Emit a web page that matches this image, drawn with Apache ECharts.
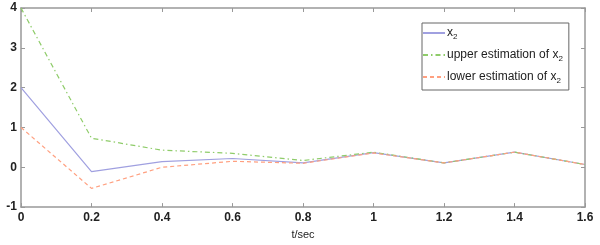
<!DOCTYPE html>
<html><head><meta charset="utf-8">
<script src="https://cdn.jsdelivr.net/npm/echarts@6/dist/echarts.min.js"></script>
<style>html,body{margin:0;padding:0;background:#fff}#c{width:600px;height:245px}</style>
</head><body><div id="c"></div>
<script>
const times = [0, 0.2, 0.4, 0.6, 0.8, 1.0, 1.2, 1.4, 1.6];
const x2 = [2.0, -0.11, 0.14, 0.22, 0.11, 0.37, 0.11, 0.38, 0.07];
const upper = [4.0, 0.73, 0.43, 0.35, 0.17, 0.38, 0.11, 0.38, 0.07];
const lower = [1.0, -0.53, 0.0, 0.15, 0.10, 0.36, 0.11, 0.38, 0.07];
const names = ['x{s|2}', 'upper estimation of x{s|2}', 'lower estimation of x{s|2}'];

const pair = (ys) => times.map((t, i) => [t, ys[i]]);
const chart = echarts.init(document.getElementById('c'), null, {renderer: 'canvas'});
const font = 'Liberation Sans, Arial, sans-serif';
const axisLine = {show: true, onZero: false, lineStyle: {color: '#999', width: 1.5}};
const tick = {show: true, inside: true, length: 4, lineStyle: {color: '#999', width: 1}};
chart.setOption({
  backgroundColor: '#fff',
  animation: false,
  grid: {left: 21, right: 15, top: 8, bottom: 29},
  legend: {
    orient: 'vertical', left: 422, top: 23,
    backgroundColor: '#fff', borderColor: '#666', borderWidth: 1,
    padding: [4, 6, 5, 0], itemGap: 8, itemWidth: 22, itemHeight: 12,
    itemStyle: {opacity: 0},
    textStyle: {fontFamily: font, fontSize: 12, color: '#222', padding: [0, 0, 0, -3],
      rich: {s: {fontFamily: font, fontSize: 8, color: '#222', padding: [8, 0, 0, 0]}}},
    data: names
  },
  xAxis: [{
    type: 'value', min: 0, max: 1.6, interval: 0.2,
    name: 't/sec', nameLocation: 'middle', nameGap: 20,
    nameTextStyle: {fontFamily: font, fontSize: 11, color: '#222'},
    axisLine, axisTick: tick, splitLine: {show: false},
    axisLabel: {fontFamily: font, fontSize: 12, fontWeight: 'bold', color: '#222', margin: 5}
  }, {
    type: 'value', position: 'top', min: 0, max: 1.6, interval: 0.2,
    axisLine, axisTick: tick, splitLine: {show: false}, axisLabel: {show: false}
  }],
  yAxis: [{
    type: 'value', min: -1, max: 4, interval: 1,
    axisLine, axisTick: tick, splitLine: {show: false},
    axisLabel: {fontFamily: font, fontSize: 12, fontWeight: 'bold', color: '#222', margin: 4}
  }, {
    type: 'value', position: 'right', min: -1, max: 4, interval: 1,
    axisLine, axisTick: tick, splitLine: {show: false}, axisLabel: {show: false}
  }],
  series: [
    {name: names[0], type: 'line', data: pair(x2), symbol: 'none', color: '#a0a0e0',
      lineStyle: {width: 1.2, color: '#a0a0e0'}},
    {name: names[1], type: 'line', data: pair(upper), symbol: 'none', color: '#8fcc6a',
      lineStyle: {width: 1.2, color: '#8fcc6a', type: [5, 3, 1.5, 3]}},
    {name: names[2], type: 'line', data: pair(lower), symbol: 'none', color: '#ffa080',
      lineStyle: {width: 1.2, color: '#ffa080', type: [4, 3]}, z: 3}
  ]
});
</script></body></html>
